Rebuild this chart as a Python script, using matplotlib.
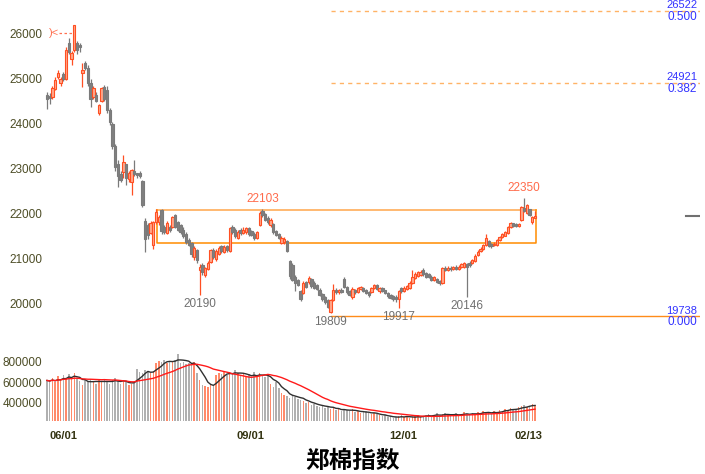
import numpy as np
import pandas as pd
import matplotlib
matplotlib.use("Agg")
from matplotlib import pyplot as plt

# daily candles (index 0 = first trading day shown)
opens = [24640, 24620, 24600, 24780, 25050, 24900, 25100, 25000, 25800, 25450,
         25650, 25800, 25750, 25130, 25350, 25250, 24900, 24600, 24650, 24250,
         24500, 24820, 24750, 24300, 24000, 23500, 23100, 22880, 22940, 23100,
         22780, 22700, 22960, 22900, 22900, 22730, 21850, 21760, 21580, 21300,
         21820, 21830, 22090, 21700, 21580, 21720, 21700, 21980, 21820, 21750,
         21650, 21560, 21420, 21350, 21050, 21200, 20760, 20870, 20640, 20780,
         20930, 21200, 21000, 21120, 21280, 21160, 21280, 21170, 21720, 21650,
         21470, 21650, 21580, 21600, 21680, 21620, 21560, 21460, 21760, 22060,
         22000, 21920, 21760, 21780, 21620, 21560, 21360, 21380, 21400, 20950,
         20870, 20600, 20540, 20280, 20250, 20490, 20480, 20560, 20470, 20420,
         20320, 20220, 20150, 20080, 19830, 20090, 20320, 20260, 20320, 20560,
         20380, 20280, 20160, 20320, 20270, 20330, 20360, 20310, 20260, 20270,
         20350, 20420, 20280, 20360, 20300, 20240, 20200, 20170, 20160, 20120,
         20350, 20280, 20340, 20360, 20470, 20580, 20620, 20650, 20760, 20680,
         20660, 20610, 20540, 20560, 20520, 20470, 20810, 20760, 20810, 20770,
         20820, 20780, 20820, 20830, 20880, 20900, 20900, 20960, 21080, 21180,
         21220, 21310, 21400, 21330, 21300, 21310, 21420, 21480, 21520, 21580,
         21710, 21790, 21770, 21740, 21870, 22130, 22020, 22100, 21830, 21920]
highs = [24700, 24680, 24850, 25050, 25200, 25050, 25150, 25700, 25900, 25620,
         26200, 25850, 25800, 25350, 25400, 25300, 25000, 24850, 24700, 24450,
         24830, 24870, 24850, 24350, 24050, 23550, 23200, 22950, 23300, 23120,
         22960, 23000, 23200, 22920, 22960, 22750, 21900, 21800, 21850, 21850,
         22120, 21980, 22120, 21750, 21850, 21760, 21960, 22000, 21850, 21780,
         21700, 21600, 21460, 21380, 21280, 21230, 20880, 20900, 20830, 20950,
         21230, 21250, 21220, 21280, 21320, 21300, 21320, 21720, 21760, 21680,
         21640, 21680, 21700, 21720, 21700, 21650, 21600, 21620, 22060, 22103,
         22030, 21950, 21900, 21800, 21650, 21580, 21520, 21480, 21420, 20980,
         20900, 20640, 20560, 20300, 20500, 20520, 20620, 20580, 20500, 20450,
         20350, 20240, 20180, 20100, 20120, 20440, 20350, 20340, 20360, 20600,
         20400, 20300, 20370, 20340, 20380, 20400, 20380, 20330, 20290, 20380,
         20450, 20450, 20380, 20380, 20320, 20260, 20220, 20190, 20200, 20310,
         20380, 20390, 20430, 20500, 20760, 20700, 20740, 20750, 20790, 20710,
         20680, 20640, 20620, 20580, 20540, 20830, 20840, 20840, 20840, 20850,
         20860, 20860, 20920, 20940, 20910, 20950, 21000, 21100, 21190, 21260,
         21330, 21560, 21430, 21360, 21370, 21450, 21520, 21580, 21620, 21730,
         21830, 21810, 21790, 21800, 22170, 22350, 22230, 22120, 21960, 22060]
lows = [24330, 24450, 24550, 24750, 25000, 24850, 24950, 24980, 25550, 25300,
        25600, 25550, 25600, 24820, 25200, 24850, 24370, 24550, 24480, 24200,
        24480, 24500, 24250, 23980, 23450, 22950, 22600, 22700, 22800, 22650,
        22700, 22430, 22850, 22800, 22800, 22150, 21150, 21450, 21550, 21230,
        21780, 21750, 21550, 21550, 21550, 21600, 21680, 21680, 21620, 21560,
        21470, 21340, 21280, 21050, 20980, 20900, 20190, 20650, 20600, 20750,
        20900, 21000, 20950, 21080, 21130, 21130, 21150, 21150, 21560, 21460,
        21440, 21540, 21550, 21560, 21520, 21500, 21420, 21440, 21740, 21940,
        21840, 21780, 21720, 21560, 21500, 21440, 21330, 21340, 21150, 20560,
        20500, 20280, 20400, 20060, 20230, 20350, 20450, 20350, 20330, 20300,
        20180, 20060, 20000, 19900, 19809, 20060, 20230, 20230, 20250, 20350,
        20230, 20170, 20100, 20230, 20250, 20300, 20270, 20220, 20160, 20250,
        20330, 20310, 20250, 20260, 20220, 20140, 20110, 20060, 20050, 19917,
        20250, 20260, 20320, 20340, 20450, 20550, 20600, 20620, 20630, 20580,
        20570, 20510, 20510, 20460, 20430, 20450, 20730, 20740, 20740, 20750,
        20750, 20760, 20800, 20810, 20146, 20830, 20880, 20940, 21060, 21160,
        21200, 21290, 21260, 21250, 21280, 21290, 21400, 21460, 21500, 21560,
        21690, 21720, 21710, 21720, 21850, 22040, 22000, 21950, 21780, 21900]
closes = [24560, 24580, 24800, 24980, 25130, 25000, 25000, 25640, 25600, 25580,
          26200, 25650, 25700, 25200, 25250, 24900, 24550, 24800, 24520, 24420,
          24800, 24560, 24300, 24050, 23500, 23050, 22850, 22750, 23150, 22800,
          22920, 22980, 22880, 22860, 22850, 22200, 21450, 21530, 21800, 21820,
          22040, 21930, 21620, 21600, 21800, 21640, 21930, 21720, 21650, 21600,
          21500, 21380, 21320, 21100, 21250, 20980, 20830, 20720, 20800, 20920,
          21200, 21050, 21180, 21250, 21170, 21270, 21200, 21690, 21600, 21500,
          21600, 21570, 21650, 21680, 21560, 21540, 21460, 21590, 22030, 21980,
          21870, 21820, 21870, 21600, 21540, 21470, 21470, 21450, 21180, 20620,
          20540, 20470, 20430, 20100, 20470, 20380, 20580, 20400, 20360, 20340,
          20210, 20100, 20050, 19940, 20090, 20310, 20260, 20310, 20270, 20380,
          20260, 20200, 20340, 20260, 20360, 20370, 20290, 20250, 20190, 20360,
          20420, 20330, 20350, 20290, 20250, 20170, 20140, 20110, 20100, 20280,
          20280, 20360, 20400, 20470, 20600, 20660, 20710, 20720, 20660, 20610,
          20600, 20540, 20590, 20490, 20460, 20800, 20760, 20810, 20770, 20820,
          20780, 20830, 20890, 20900, 20820, 20860, 20980, 21070, 21160, 21230,
          21310, 21460, 21290, 21280, 21340, 21420, 21490, 21550, 21600, 21710,
          21800, 21740, 21730, 21780, 22150, 22060, 22200, 21980, 21940, 21960]
# volume in thousands
volumes = [620, 610, 640, 600, 660, 620, 670, 640, 680, 630,
           690, 640, 610, 580, 620, 600, 630, 610, 590, 620,
           600, 630, 610, 590, 620, 640, 610, 590, 620, 600,
           580, 590, 600, 730, 700, 690, 720, 700, 690, 710,
           790, 810, 800, 820, 790, 810, 800, 820, 880, 790,
           800, 780, 790, 770, 800, 690, 620, 580, 570, 560,
           580, 570, 670, 690, 680, 700, 670, 700, 680, 720,
           690, 670, 690, 650, 680, 640, 700, 660, 690, 670,
           650, 680, 590, 560, 600, 550, 500, 480, 470, 450,
           480, 460, 440, 430, 420, 400, 410, 380, 390, 370,
           360, 380, 350, 370, 340, 350, 330, 340, 320, 340,
           330, 320, 340, 310, 320, 300, 310, 320, 300, 290,
           300, 290, 280, 270, 280, 260, 270, 250, 260, 270,
           280, 260, 270, 250, 260, 270, 280, 260, 270, 280,
           290, 270, 280, 300, 270, 290, 300, 280, 290, 270,
           300, 280, 290, 310, 290, 280, 300, 290, 310, 300,
           320, 310, 300, 290, 320, 310, 330, 320, 340, 330,
           350, 340, 330, 360, 370, 380, 360, 370, 390, 380]

tick_pos = [6, 74.5, 130.6, 176.5]
tick_labels = ["06/01", "09/01", "12/01", "02/13"]
hi_marks = [79, 175]
lo_marks = [56, 104, 129, 154]
fib_levels = [26522, 24921, 19738]
fib_ratios = ["0.500", "0.382", "0.000"]
fib_start = 104
box_left, box_right = 40.4, 179.4
box_top, box_bottom = 22080, 21350
peak_mark = 26030

plt.rcParams['font.family'] = ['Liberation Sans', 'DejaVu Sans']
olive = '#4d4d26'

fig = plt.figure(figsize=(7.05, 4.74), dpi=100)
ax = fig.add_axes([44/705, 1-330/474, 656/705, 328/474])
axv = fig.add_axes([44/705, 1-421/474, 656/705, 71/474])

x = np.arange(len(closes))
o = np.array(opens); h = np.array(highs); l = np.array(lows); c = np.array(closes)
up = c >= o
edge = np.where(up, '#FF4F22', '#7A7A7A')
face = np.where(up, '#FFA88C', '#808080')

# candles
ax.vlines(x, l, h, colors=edge, lw=0.9, zorder=2)
ax.bar(x, np.maximum(np.abs(c - o), 15), bottom=np.minimum(o, c), width=0.85,
       color=face, edgecolor=edge, linewidth=0.8, zorder=3)

# box
ax.plot([box_left, box_right], [box_top, box_top], color='#FFB366', lw=1.3, zorder=1)
ax.plot([box_left, box_left, box_right, box_right], [box_top, box_bottom, box_bottom, box_top],
        color='#FF8C00', lw=1.1, zorder=1)

# fibonacci lines
xmax = 239.5
for lev, rat in zip(fib_levels, fib_ratios):
    if rat == "0.000":
        ax.plot([fib_start, xmax], [lev, lev], color='#FF8C1A', lw=1, zorder=1)
    else:
        ax.plot([fib_start, xmax], [lev, lev], color='#FFB366', lw=1, ls=(0, (3, 3)), zorder=1)
    ax.annotate(str(lev), (1, lev), xycoords=('axes fraction', 'data'), xytext=(-2, 3.8),
                textcoords='offset points', ha='right', va='center', color='#3333FF', fontsize=8)
    ax.annotate(rat, (1, lev), xycoords=('axes fraction', 'data'), xytext=(-2, -4.5),
                textcoords='offset points', ha='right', va='center', color='#3333FF', fontsize=8.5)

# high / low labels
for i in hi_marks:
    ax.annotate(str(h[i]), (i, h[i]), xytext=(0, 7.5), textcoords='offset points',
                ha='center', va='center', color='#FF6A4A', fontsize=8.5)
for i in lo_marks:
    ax.annotate(str(l[i]), (i, l[i]), xytext=(0, -6.5), textcoords='offset points',
                ha='center', va='center', color='#707070', fontsize=8.5)

# peak marker
pk = int(np.argmax(h))
ax.plot([pk - 5.5, pk - 0.5], [peak_mark, peak_mark], color='#FF7050', lw=0.9, ls=(0, (2, 2)))
ax.text(pk - 5.7, peak_mark, ")<", color='#FF7050', fontsize=8, ha='right', va='center')

# last price marker
ax.plot([0.979, 1.0], [c[-1], c[-1]], transform=ax.get_yaxis_transform(), color='#707070', lw=1.5)

ax.set_xlim(-1.1, xmax)
ax.set_ylim(19422, 26711)
ax.set_yticks([20000, 21000, 22000, 23000, 24000, 25000, 26000])
ax.set_xticks([])
ax.tick_params(axis='y', length=0, pad=1, labelsize=8.5, labelcolor=olive)
for s in ax.spines.values():
    s.set_visible(False)

# volume
vol = np.array(volumes) * 1000
axv.bar(x, vol, width=0.55, color=np.where(up, '#FF8A6A', '#B0B0B0'), zorder=2)
axv.plot(x, pd.Series(vol).rolling(5, min_periods=1).mean(), color='#303030', lw=1, zorder=3)
axv.plot(x, pd.Series(vol).rolling(20, min_periods=1).mean(), color='#FF1A1A', lw=1, zorder=3)
axv.set_xlim(-1.1, xmax)
axv.set_ylim(224400, 917000)
axv.set_yticks([400000, 600000, 800000])
axv.set_yticklabels(["400000", "600000", "800000"])
axv.set_xticks(tick_pos)
axv.set_xticklabels(tick_labels, fontweight='bold')
axv.tick_params(axis='y', length=0, pad=1, labelsize=8.5, labelcolor=olive)
axv.tick_params(axis='x', length=0, pad=7, labelsize=8, labelcolor='#333311')
for s in axv.spines.values():
    s.set_visible(False)

fig.text(0.5, 1 - 461/474, "郑棉指数", ha='center', va='center', fontsize=17,
         fontweight='bold', family=['Noto Sans CJK SC', 'DejaVu Sans'])

fig.savefig("out.png", dpi=100, facecolor='white')
